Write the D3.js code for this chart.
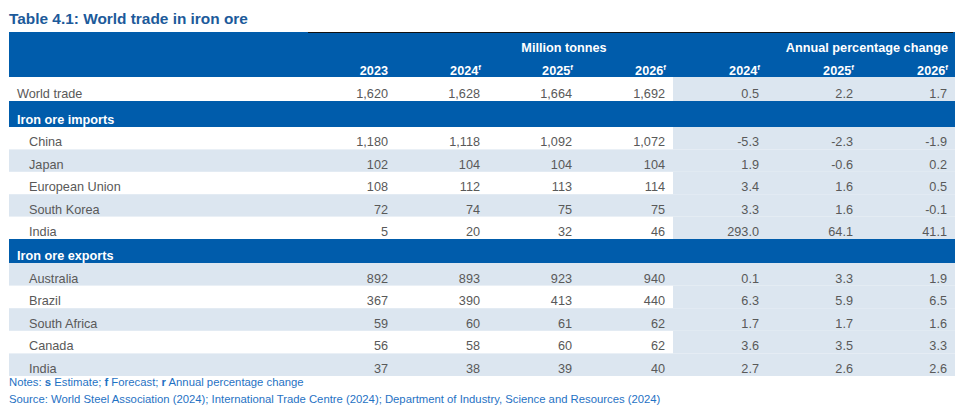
<!DOCTYPE html>
<html>
<head>
<meta charset="utf-8">
<script src="https://cdn.jsdelivr.net/npm/d3@7"></script>
<style>
  html, body { margin: 0; padding: 0; background: #fff; }
  svg { display: block; font-family: "Liberation Sans", Arial, sans-serif; }
</style>
</head>
<body>
<svg id="chart" width="960" height="409"></svg>
<script>
// ---------- data ----------
const title = "Table 4.1: World trade in iron ore";
const volumeYears = ["2023", "2024", "2025", "2026"];
const volumeSuffix = ["", "f", "f", "f"];
const pctYears = ["2024", "2025", "2026"];
const pctSuffix = ["f", "f", "f"];
const volumeGroupLabel = "Million tonnes";
const pctGroupLabel = "Annual percentage change";

const worldLabel = "World trade";
const worldVolumes = [1620, 1628, 1664, 1692];
const worldPct = [0.5, 2.2, 1.7];

const importsLabel = "Iron ore imports";
const importCountries = ["China", "Japan", "European Union", "South Korea", "India"];
const importVolumes = [
  [1180, 1118, 1092, 1072],
  [102, 104, 104, 104],
  [108, 112, 113, 114],
  [72, 74, 75, 75],
  [5, 20, 32, 46]
];
const importPct = [
  [-5.3, -2.3, -1.9],
  [1.9, -0.6, 0.2],
  [3.4, 1.6, 0.5],
  [3.3, 1.6, -0.1],
  [293.0, 64.1, 41.1]
];

const exportsLabel = "Iron ore exports";
const exportCountries = ["Australia", "Brazil", "South Africa", "Canada", "India"];
const exportVolumes = [
  [892, 893, 923, 940],
  [367, 390, 413, 440],
  [59, 60, 61, 62],
  [56, 58, 60, 62],
  [37, 38, 39, 40]
];
const exportPct = [
  [0.1, 3.3, 1.9],
  [6.3, 5.9, 6.5],
  [1.7, 1.7, 1.6],
  [3.6, 3.5, 3.3],
  [2.7, 2.6, 2.6]
];

const notesParts = [["Notes: ", false], ["s", true], [" Estimate; ", false], ["f", true], [" Forecast; ", false], ["r", true], [" Annual percentage change", false]];
const sourceText = "Source: World Steel Association (2024); International Trade Centre (2024); Department of Industry, Science and Resources (2024)";

// ---------- styles ----------
const BLUE = "#005CAB";
const SHADE = "#DCE6F0";
const TEXT = "#595959";
const TITLE = "#1C5A9A";
const NOTE = "#1F72C4";
const FS = 12.7;

const loc = d3.formatLocale({decimal: ".", thousands: ",", grouping: [3], currency: ["$", ""], minus: "-"});
const fmtVol = loc.format(",");
const fmtPct = loc.format(".1f");

const svg = d3.select("#chart");
const left = 9, right = 955, shadeStart = 673;

// column scale: right edges of each numeric column
const colKeys = volumeYears.map(y => "v" + y).concat(pctYears.map(y => "p" + y));
const x = d3.scaleOrdinal().domain(colKeys).range([388, 480, 572, 665, 759, 853, 947]);

// ---------- row layout ----------
const rows = [];
rows.push({type: "world", label: worldLabel, vol: worldVolumes, pct: worldPct, h: 24, stripe: false});
rows.push({type: "band", label: importsLabel, h: 26});
importCountries.forEach((c, i) => rows.push({type: "row", label: c, vol: importVolumes[i], pct: importPct[i], h: 22.4, stripe: i % 2 === 1}));
rows.push({type: "band", label: exportsLabel, h: 24});
exportCountries.forEach((c, i) => rows.push({type: "row", label: c, vol: exportVolumes[i], pct: exportPct[i], h: 22.6, stripe: i % 2 === 0}));

let yy = 77;
rows.forEach(r => { r.y0 = yy; yy += r.h; r.y1 = yy; });

// ---------- title ----------
svg.append("text").attr("x", left).attr("y", 24)
  .attr("font-size", 15.4).attr("font-weight", "bold").attr("fill", TITLE)
  .text(title);

// ---------- header ----------
svg.append("rect").attr("x", left).attr("y", 32).attr("width", right - left).attr("height", 45).attr("fill", BLUE);
svg.append("line").attr("x1", 308).attr("x2", 953).attr("y1", 32.5).attr("y2", 32.5).attr("stroke", "#111").attr("stroke-width", 1);

svg.append("text").attr("x", 564).attr("y", 52).attr("text-anchor", "middle")
  .attr("font-size", FS).attr("font-weight", "bold").attr("fill", "#fff").text(volumeGroupLabel);
svg.append("text").attr("x", x("p2026") + 1).attr("y", 52).attr("text-anchor", "end")
  .attr("font-size", FS).attr("font-weight", "bold").attr("fill", "#fff").text(pctGroupLabel);

const headerCells = volumeYears.map((y, i) => ({key: "v" + y, year: y, sup: volumeSuffix[i]}))
  .concat(pctYears.map((y, i) => ({key: "p" + y, year: y, sup: pctSuffix[i]})));
headerCells.forEach(c => {
  const t = svg.append("text").attr("x", x(c.key) + (c.sup ? 1 : 0)).attr("y", 75).attr("text-anchor", "end")
    .attr("font-size", FS).attr("font-weight", "bold").attr("fill", "#fff");
  t.append("tspan").text(c.year);
  if (c.sup) t.append("tspan").attr("font-size", 8).attr("dy", -5).text(c.sup);
});

// ---------- body ----------
const g = svg.append("g");
rows.forEach(r => {
  if (r.type === "band") {
    g.append("rect").attr("x", left).attr("y", r.y0).attr("width", right - left).attr("height", r.h).attr("fill", BLUE);
    g.append("text").attr("x", 17).attr("y", r.y1 - 3).attr("font-size", FS).attr("font-weight", "bold")
      .attr("fill", "#fff").text(r.label);
    return;
  }
  if (r.stripe) g.append("rect").attr("x", left).attr("y", r.y0).attr("width", shadeStart - left).attr("height", r.h).attr("fill", SHADE);
  g.append("rect").attr("x", shadeStart).attr("y", r.y0).attr("width", right - shadeStart).attr("height", r.h).attr("fill", SHADE);
  const base = r.y1 - 3;
  g.append("text").attr("x", r.type === "world" ? 17 : 29).attr("y", base).attr("font-size", FS).attr("fill", TEXT).text(r.label);
  r.vol.forEach((v, i) => {
    g.append("text").attr("x", x("v" + volumeYears[i])).attr("y", base).attr("text-anchor", "end")
      .attr("font-size", FS).attr("fill", TEXT).text(fmtVol(v));
  });
  r.pct.forEach((v, i) => {
    g.append("text").attr("x", x("p" + pctYears[i])).attr("y", base).attr("text-anchor", "end")
      .attr("font-size", FS).attr("fill", TEXT).text(fmtPct(v));
  });
});

// ---------- notes ----------
const nt = svg.append("text").attr("x", left).attr("y", 386).attr("font-size", 11.3).attr("fill", NOTE);
notesParts.forEach(([s, b]) => nt.append("tspan").attr("font-weight", b ? "bold" : "normal").text(s));
svg.append("text").attr("x", left).attr("y", 403).attr("font-size", 11.3).attr("fill", NOTE).text(sourceText);
</script>
</body>
</html>
